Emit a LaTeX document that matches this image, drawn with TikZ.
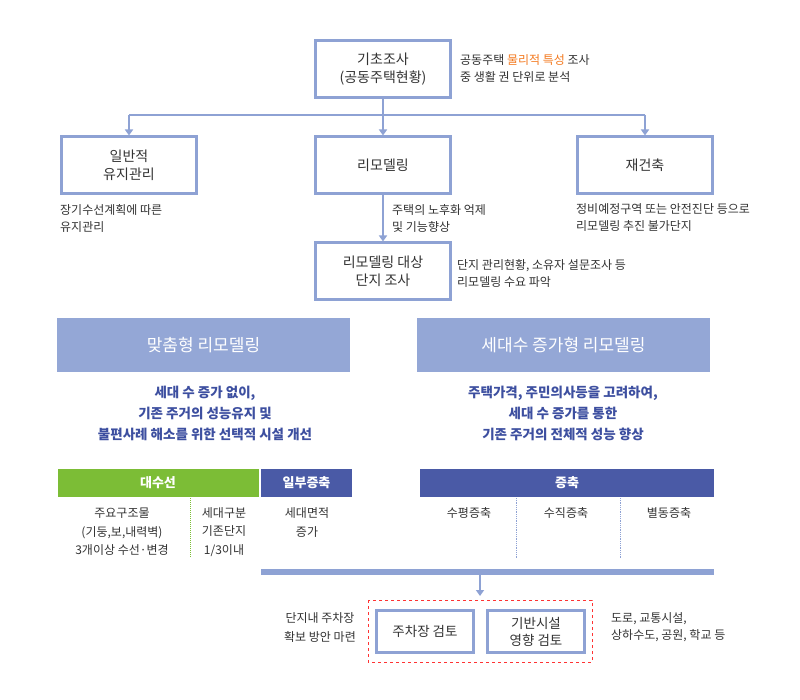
\documentclass[tikz,border=0pt]{standalone}
\usepackage{fontspec}
\setmainfont{Noto Sans CJK KR}
\usetikzlibrary{arrows.meta}
\definecolor{bx}{HTML}{8EA2D4}
\definecolor{bn}{HTML}{94A7D6}
\definecolor{bt}{HTML}{3D4FA0}
\definecolor{gr}{HTML}{7CBD36}
\definecolor{db}{HTML}{4A5AA6}
\definecolor{og}{HTML}{F47A20}
\definecolor{tx}{HTML}{333333}
\begin{document}
\begin{tikzpicture}[x=1pt,y=-1pt,
  box/.style={draw=bx,line width=3pt,minimum width=135pt,minimum height=57pt,align=center,font=\fontsize{14}{18}\selectfont,text=tx,inner sep=0pt},
  ibox/.style={draw=bx,line width=3pt,minimum width=97pt,minimum height=42pt,align=center,font=\fontsize{13.5}{17}\selectfont,text=tx,inner sep=0pt},
  note/.style={align=left,anchor=west,font=\fontsize{12}{17}\selectfont,text=tx,inner sep=0pt},
  cnote/.style={align=center,font=\fontsize{12}{18.5}\selectfont,text=tx,inner sep=0pt},
  banner/.style={fill=bn,minimum width=293pt,minimum height=54pt,text=white,font=\fontsize{17}{20}\selectfont,inner sep=0pt},
  blue/.style={align=center,text=bt,font=\bfseries\fontsize{13.5}{21}\selectfont,inner sep=0pt},
  bar/.style={minimum height=28pt,text=white,font=\bfseries\fontsize{13}{14}\selectfont,inner sep=0pt},
  arr/.style={draw=bx,line width=1.8pt,-{Triangle[length=6pt,width=8pt]}},
  ln/.style={draw=bx,line width=1.8pt}]
\useasboundingbox (0,0) rectangle (800,700);
\fill[white] (0,0) rectangle (800,700);
\node[box] (top) at (383,69) {기초조사\\(공동주택현황)};
\node[note] (topn) at (460,69) {공동주택 \textcolor{og}{물리적 특성} 조사\\중 생활 권 단위로 분석};
\node[box] (l) at (129,165.5) {일반적\\유지관리};
\node[box] (m) at (383,165.5) {리모델링};
\node[box] (r) at (645,165.5) {재건축};
\node[note] at (60,218) {장기수선계획에 따른\\유지관리};
\node[note] at (392,218) {주택의 노후화 억제\\및 기능향상};
\node[note] at (576,218) {정비예정구역 또는 안전진단 등으로\\리모델링 추진 불가단지};
\node[box] (d) at (383,271.5) {리모델링 대상\\단지 조사};
\node[note] at (457,273) {단지 관리현황, 소유자 설문조사 등\\리모델링 수요 파악};
\coordinate (j) at (383,115);
\coordinate (jl) at (129,115);
\coordinate (jr) at (645,115);
\draw[ln] (top.south) -- (j);
\draw[ln] (jl) -- (jr);
\draw[arr] (jl) -- (l.north);
\draw[arr] (j) -- (m.north);
\draw[arr] (jr) -- (r.north);
\draw[arr] (m.south) -- (d.north);
\node[banner] (b1) at (203.5,345) {맞춤형 리모델링};
\node[banner] (b2) at (563.5,345) {세대수 증가형 리모델링};
\node[blue] at (205,413) {세대 수 증가 없이,\\기존 주거의 성능유지 및\\불편사례 해소를 위한 선택적 시설 개선};
\node[blue] at (563,413) {주택가격, 주민의사등을 고려하여,\\세대 수 증가를 통한\\기존 주거의 전체적 성능 향상};
\node[bar,fill=gr,minimum width=201pt] (g) at (158,483) {대수선};
\node[bar,fill=db,minimum width=91pt] (p) at (306.5,483) {일부증축};
\node[bar,fill=db,minimum width=294pt] (z) at (567,483) {증축};
\node[cnote] at (122,532) {주요구조물\\(기둥,보,내력벽)\\3개이상 수선·변경};
\node[cnote] at (224,532) {세대구분\\기존단지\\1/3이내};
\node[cnote] at (307,522.5) {세대면적\\증가};
\draw[gr,densely dotted,line width=1pt] (190,498) -- (190,558);
\node[cnote] at (469,513) {수평증축};
\node[cnote] at (566,513) {수직증축};
\node[cnote] at (669,513) {별동증축};
\draw[bx,densely dotted,line width=0.8pt] (516,498) -- (516,558);
\draw[bx,densely dotted,line width=0.8pt] (620,498) -- (620,558);
\fill[bx] (261,569) rectangle (714,575);
\coordinate (ba) at (480,575);
\node[ibox] (pk) at (425,631.5) {주차장 검토};
\node[ibox] (in) at (536,631.5) {기반시설\\영향 검토};
\draw[red!80,dashed,line width=0.8pt] (368,600) rectangle (592,662);
\coordinate (bb) at (480,596);
\draw[arr] (ba) -- (bb);
\node[cnote,anchor=east] at (356,627.5) {단지내 주차장\\확보 방안 마련};
\node[note] at (611,627.5) {도로, 교통시설,\\상하수도, 공원, 학교 등};
\end{tikzpicture}
\end{document}
